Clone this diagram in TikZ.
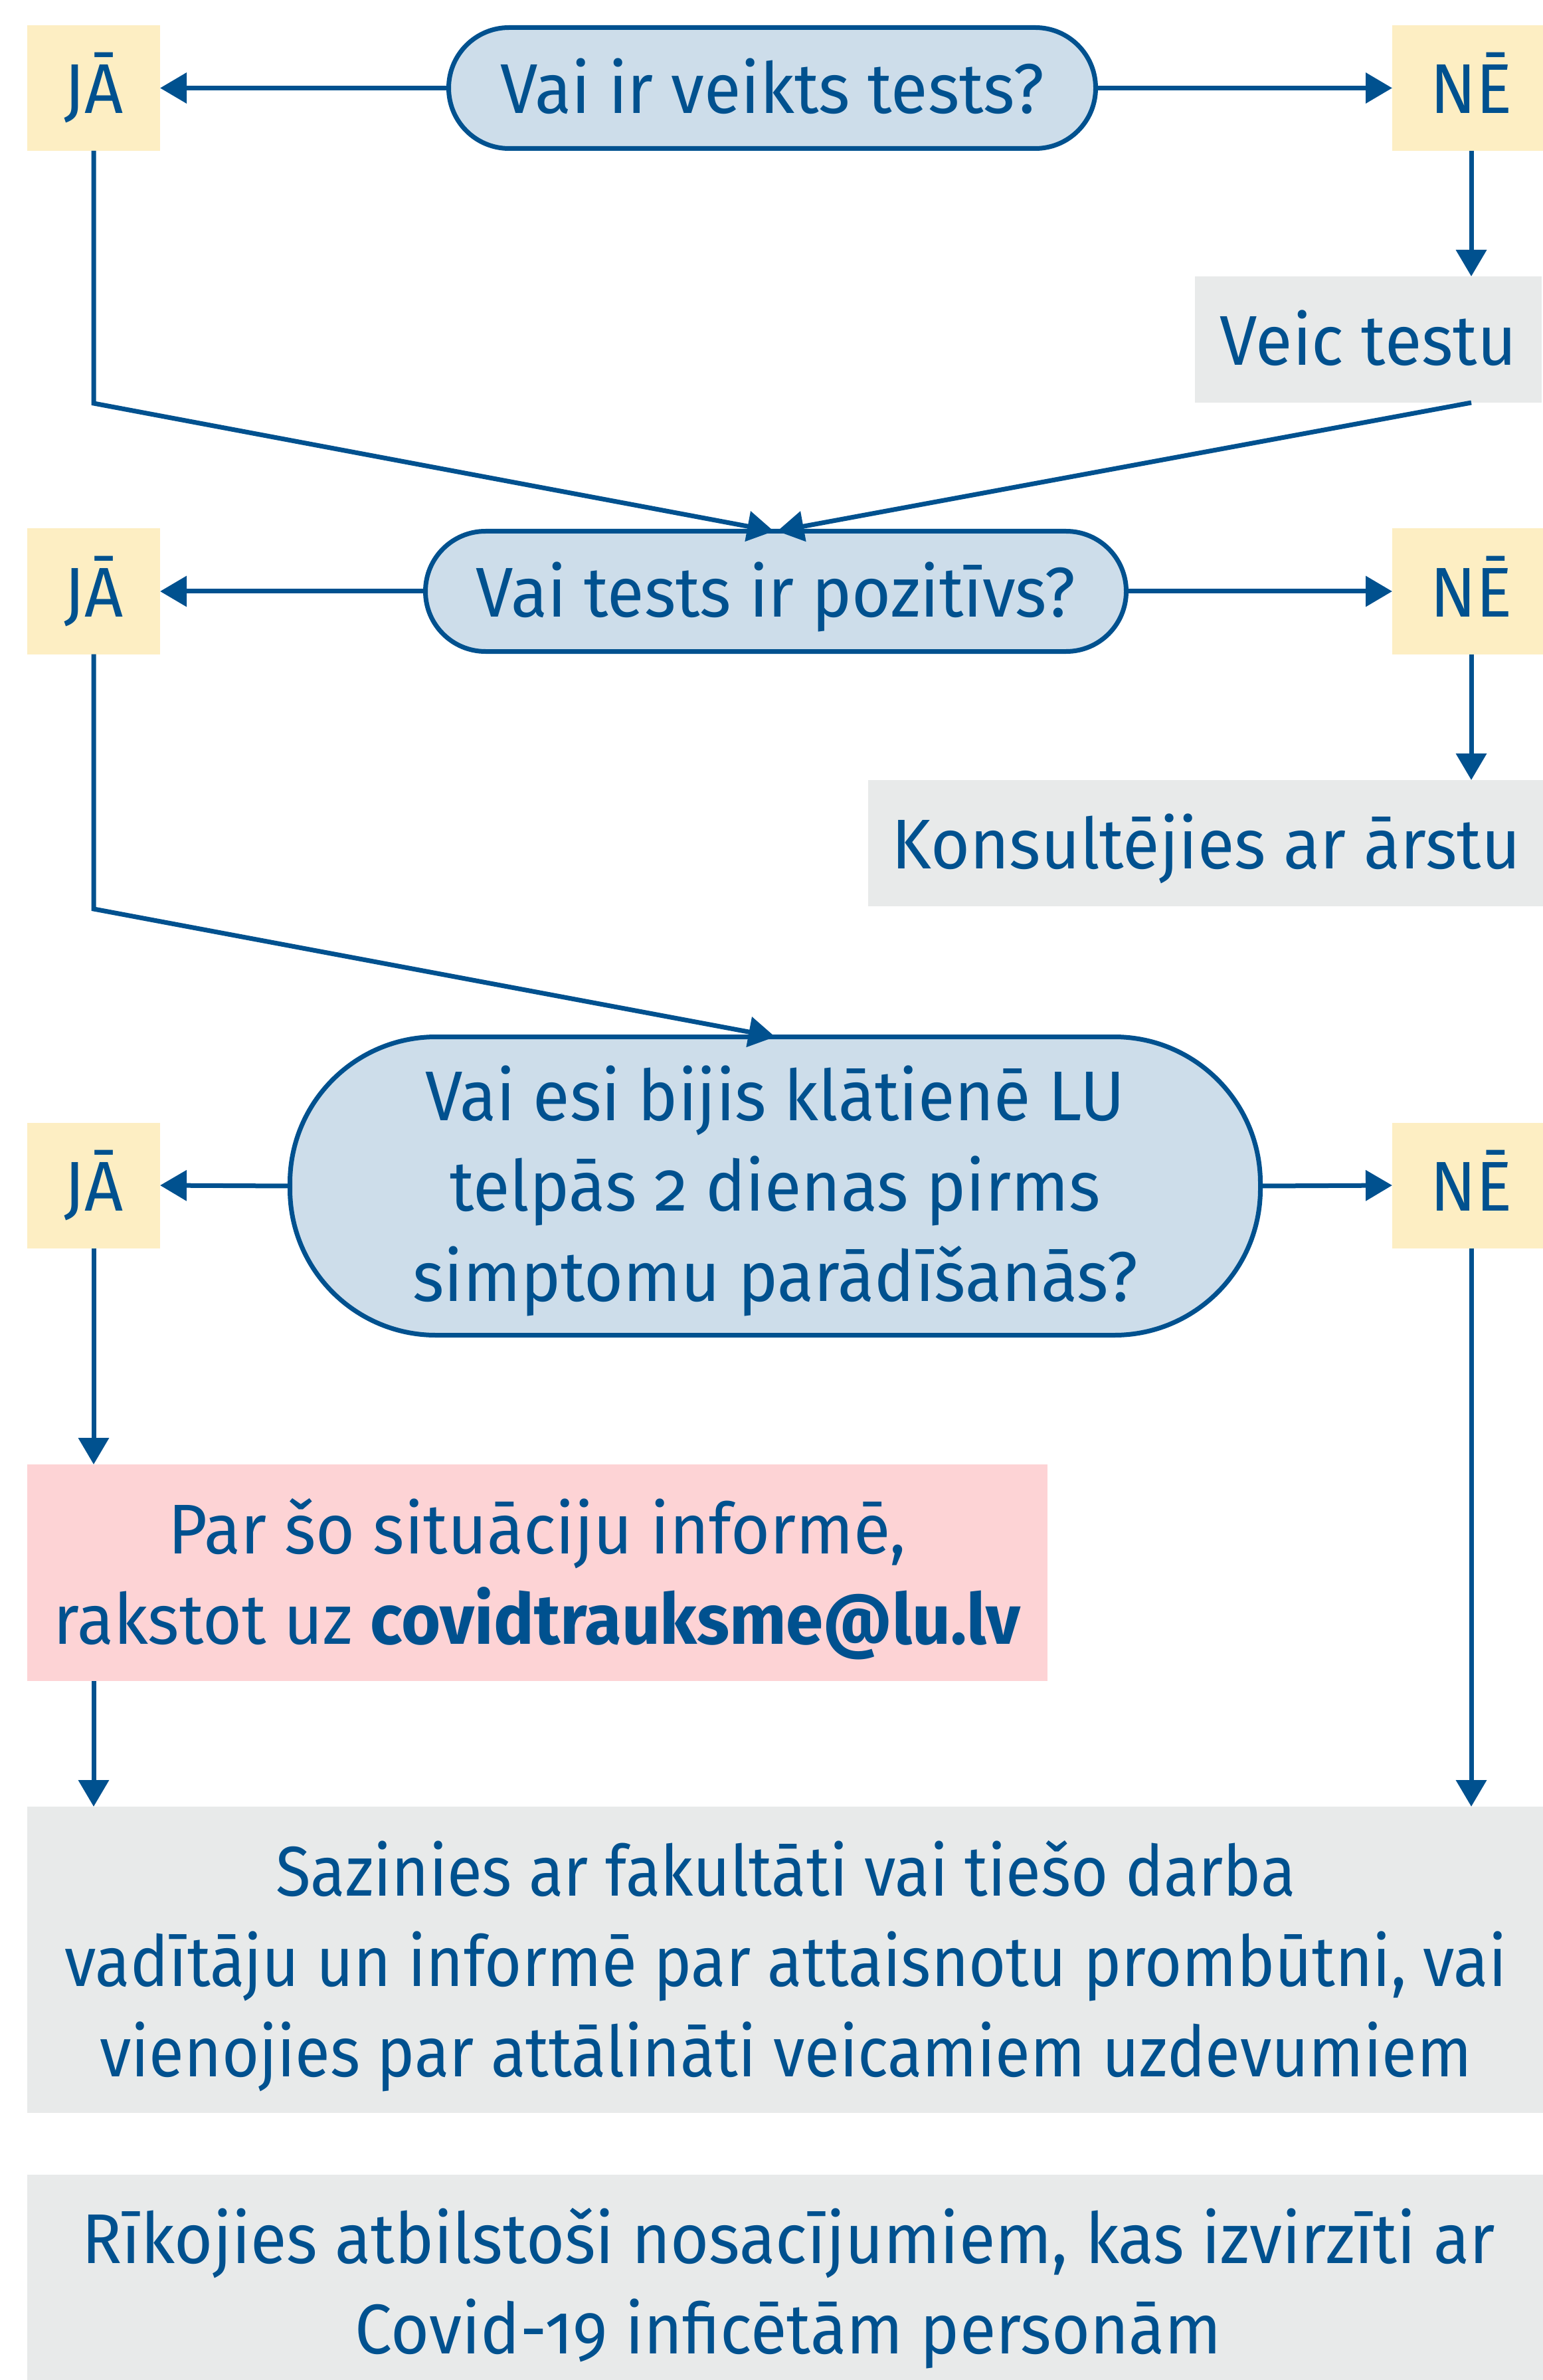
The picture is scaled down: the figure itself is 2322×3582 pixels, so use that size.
\documentclass[tikz,border=0pt]{standalone}
\usepackage{fontspec}
\setmainfont{Fira Sans}[Numbers=OldStyle, FakeStretch=0.956]
\newfontfamily\narrowfont{Fira Sans}[Numbers=OldStyle, FakeStretch=0.91]
\newfontfamily\semifont{Fira Sans}[Numbers=OldStyle, FakeStretch=0.94]
\usetikzlibrary{arrows.meta,calc}
\definecolor{lublue}{HTML}{00518F}
\definecolor{pillfill}{HTML}{CDDDEA}
\definecolor{yesno}{HTML}{FDEEC3}
\definecolor{alertfill}{HTML}{FDD3D5}
\definecolor{grayfill}{HTML}{E8EAEA}
\tikzset{
  base/.style={inner sep=0pt, outer sep=0pt, text=lublue, font=\fontsize{26.5}{34}\selectfont, align=center},
  oneline/.style={text height=19.25pt, text depth=0pt},
  answer/.style={base, oneline, fill=yesno, minimum height=47.25pt},
  jabox/.style={answer, minimum width=50pt},
  nebox/.style={answer, minimum width=59.5pt},
  question/.style={base, draw=lublue, fill=pillfill, line width=1.75pt},
  actbox/.style={base, fill=grayfill},
  conn/.style={draw=lublue, line width=1.75pt, line join=miter},
  arr/.style={conn, -{Triangle[length=10pt,width=11.25pt]}},
}
\begin{document}
\begin{tikzpicture}[x=0.25pt,y=-0.25pt]
\useasboundingbox (0,0) rectangle (2322,3582);
% row 1
\node[jabox] (ja1) at (141,132.5) {JĀ};
\node[question, oneline, minimum width=243.5pt, minimum height=45.5pt, rounded corners=22.7pt] (q1) at (1162.5,132.5) {Vai ir veikts tests?};
\node[nebox] (ne1) at (2215,132.5) {NĒ};
\node[actbox, oneline, minimum width=130.5pt, minimum height=47.5pt] (veic) at (2060,511) {Veic testu};
% row 2
\node[question, oneline, minimum width=263.75pt, minimum height=45.25pt, rounded corners=22.6pt] (q2) at (1168,890) {Vai tests ir pozitīvs?};
\node[jabox] (ja2) at (141,890) {JĀ};
\node[nebox] (ne2) at (2215,890) {NĒ};
\node[actbox, oneline, minimum width=254.5pt, minimum height=47.5pt] (kons) at (1816,1269) {Konsultējies ar ārstu};
% row 3
\node[question, text height=86.5pt, text depth=0pt, minimum width=365.25pt, minimum height=112.25pt, rounded corners=55pt] (q3) at (1167,1785) {Vai esi bijis klātienē LU\\telpās 2 dienas pirms\\simptomu parādīšanās?};
\node[jabox] (ja3) at (141,1784) {JĀ};
\node[nebox] (ne3) at (2215,1784) {NĒ};
% outcomes
\node[base, fill=alertfill, text height=53.5pt, text depth=0pt, minimum width=384pt, minimum height=81.5pt] (info) at (809,2367) {Par šo situāciju informē,\\rakstot uz \textbf{covidtrauksme@lu.lv}};
\node[actbox, font=\fontsize{26.5}{34}\narrowfont, text height=87.75pt, text depth=0pt, minimum width=571pt, minimum height=115.25pt] (contact) at (1183,2949.5) {Sazinies ar fakultāti vai tiešo darba\\vadītāju un informē par attaisnotu prombūtni, vai\\vienojies par attālināti veicamiem uzdevumiem};
\node[actbox, font=\fontsize{26.5}{34}\semifont, text height=53.5pt, text depth=0pt, minimum width=573pt, minimum height=81pt] (rules) at (1187,3435) {Rīkojies atbilstoši nosacījumiem, kas izvirzīti ar\\Covid-19 inficētām personām};
% connectors
\coordinate (k1) at (141,607);
\coordinate (k2) at (141,1368);
\draw[arr] (q1.west) -- (ja1.east);
\draw[arr] (q1.east) -- (ne1.west);
\draw[arr] (ne1.south) -- (ne1.south |- veic.north);
\draw[arr] (ja1.south) -- (ja1.south |- k1) -- ([xshift=-0.75pt]q2.north);
\draw[arr] (veic.south -| ne1.south) -- ([xshift=0.5pt]q2.north);
\draw[arr] (q2.west) -- (ja2.east);
\draw[arr] (q2.east) -- (ne2.west);
\draw[arr] (ne2.south) -- (ne2.south |- kons.north);
\draw[arr] (ja2.south) -- (ja2.south |- k2) -- (q3.north);
\draw[arr] (q3.west) -- (ja3.east);
\draw[arr] (q3.east) -- (ne3.west);
\draw[arr] (ja3.south) -- (ja3.south |- info.north);
\draw[arr] (ja3.south |- info.south) -- (ja3.south |- contact.north);
\draw[arr] (ne3.south) -- (ne3.south |- contact.north);
\end{tikzpicture}
\end{document}
